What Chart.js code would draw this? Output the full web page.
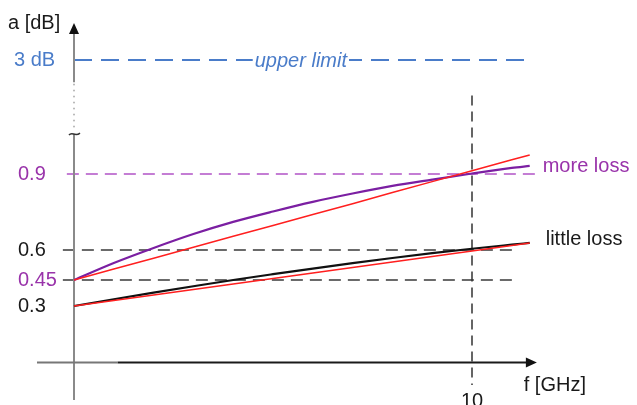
<!DOCTYPE html>
<html>
<head>
<meta charset="utf-8">
<script src="https://cdn.jsdelivr.net/npm/chart.js@4.4.1/dist/chart.umd.min.js"></script>
<style>
  html, body { margin: 0; padding: 0; background: #fff; }
  #wrap { width: 637px; height: 405px; }
</style>
</head>
<body>
<div id="wrap"><canvas id="lossChart" width="637" height="405"></canvas></div>
<script>
// Data
const freq = [0, 1, 2, 3, 4, 5, 6, 7, 8, 9, 10, 11, 11.45];            // f [GHz]
const moreLoss = [0.45, 0.535, 0.608, 0.663, 0.711, 0.752, 0.790, 0.823, 0.853, 0.878, 0.902, 0.924, 0.932];
const moreLossFit = [0.45, 0.505, 0.559, 0.611, 0.654, 0.697, 0.740, 0.783, 0.827, 0.870, 0.913, 0.956, 0.975];
const littleLoss = [0.30, 0.339, 0.377, 0.414, 0.450, 0.479, 0.507, 0.534, 0.560, 0.584, 0.605, 0.621, 0.628];
const littleLossFit = [0.30, 0.332, 0.364, 0.395, 0.427, 0.458, 0.485, 0.513, 0.540, 0.568, 0.595, 0.618, 0.628];

const yTickValues = [0.3, 0.45, 0.6, 0.9, 3];
const yTickLabels = ['0.3', '0.45', '0.6', '0.9', '3 dB'];
const xTickValues = [10];
const xTickLabels = ['10'];
const upperLimit = 3;
const refLevels = [0.45, 0.6, 0.9];
const markFreq = 10;

// styles
const PURPLE = '#7b1fa2';
const PURPLE_TXT = '#9933aa';
const PURPLE_LIGHT = '#c47dd4';
const BLUE = '#4a7cc9';
const RED = '#ff1f1f';
const DARK = '#1a1a1a';
const FONT = '"Liberation Sans", Arial, sans-serif';
const yTickColors = [DARK, PURPLE_TXT, DARK, PURPLE_TXT, BLUE];

// the drawing uses a broken, non-uniform dB axis: [value, fraction of axis height]
const yKnots = [[-0.2, 0], [0, 0.0987], [0.3, 0.2474], [0.45, 0.3158], [0.6, 0.3947],
                [0.9, 0.5947], [1.0, 0.6613], [3, 0.8947], [3.4, 1]];

class BrokenAxis extends Chart.LinearScale {
  getPixelForValue(value) {
    if (value === null || value === undefined || isNaN(value)) return NaN;
    let i = 1;
    while (i < yKnots.length - 1 && value > yKnots[i][0]) i++;
    const [v0, f0] = yKnots[i - 1];
    const [v1, f1] = yKnots[i];
    const frac = f0 + (value - v0) / (v1 - v0) * (f1 - f0);
    return this.bottom - frac * (this.bottom - this.top);
  }
  getValueForPixel(pixel) {
    const frac = (this.bottom - pixel) / (this.bottom - this.top);
    let i = 1;
    while (i < yKnots.length - 1 && frac > yKnots[i][1]) i++;
    const [v0, f0] = yKnots[i - 1];
    const [v1, f1] = yKnots[i];
    return v0 + (frac - f0) / (f1 - f0) * (v1 - v0);
  }
}
BrokenAxis.id = 'brokenLinear';
BrokenAxis.defaults = Chart.LinearScale.defaults;
Chart.register(BrokenAxis);

const pts = arr => arr.map((v, i) => ({ x: freq[i], y: v }));

function dashLine(ctx, x1, y1, x2, y2, color, width, dash) {
  ctx.save();
  ctx.strokeStyle = color;
  ctx.lineWidth = width;
  ctx.setLineDash(dash);
  ctx.beginPath();
  ctx.moveTo(x1, y1);
  ctx.lineTo(x2, y2);
  ctx.stroke();
  ctx.restore();
}

const decor = {
  id: 'decor',
  beforeDatasetsDraw(chart) {
    const ctx = chart.ctx;
    const xs = chart.scales.x, ys = chart.scales.y;
    const x0 = xs.getPixelForValue(0);
    const y0 = ys.getPixelForValue(0);

    // reference levels
    const yU = ys.getPixelForValue(upperLimit);
    dashLine(ctx, x0, yU, xs.getPixelForValue(11.45), yU, BLUE, 2, [18, 9]);
    refLevels.forEach(v => {
      const yp = ys.getPixelForValue(v);
      if (v === 0.9) dashLine(ctx, xs.getPixelForValue(-0.18), yp, xs.getPixelForValue(11.63), yp, PURPLE_LIGHT, 2, [12, 7]);
      else dashLine(ctx, xs.getPixelForValue(-0.28), yp, xs.getPixelForValue(11.16), yp, '#6a6a6a', 2, [12, 7]);
    });
    const xm = xs.getPixelForValue(markFreq);
    dashLine(ctx, xm, ys.getPixelForValue(2.2), xm, ys.getPixelForValue(-0.12), '#333', 1.5, [10, 6]);

    // y axis with break
    ctx.save();
    ctx.strokeStyle = '#8a8a8a';
    ctx.lineWidth = 2;
    ctx.beginPath();
    ctx.moveTo(x0, ys.getPixelForValue(-0.2));
    ctx.lineTo(x0, ys.getPixelForValue(1.33));
    ctx.moveTo(x0, ys.getPixelForValue(2.5));
    ctx.lineTo(x0, ys.getPixelForValue(3.28));
    ctx.stroke();
    ctx.fillStyle = '#aaa';
    for (let yp = ys.getPixelForValue(1.5); yp >= ys.getPixelForValue(2.48); yp -= 6) {
      ctx.fillRect(x0 - 0.8, yp - 0.8, 1.6, 1.6);
    }
    // break mark
    const yb = ys.getPixelForValue(1.33);
    ctx.strokeStyle = '#333';
    ctx.lineWidth = 1.5;
    ctx.beginPath();
    ctx.moveTo(x0 - 5, yb + 1);
    ctx.bezierCurveTo(x0 - 2, yb - 3, x0 + 1, yb + 3, x0 + 6, yb - 1);
    ctx.stroke();
    // arrow head
    const yTip = ys.getPixelForValue(3.37);
    ctx.fillStyle = '#111';
    ctx.beginPath();
    ctx.moveTo(x0, yTip);
    ctx.lineTo(x0 - 5, yTip + 11);
    ctx.lineTo(x0 + 5, yTip + 11);
    ctx.closePath();
    ctx.fill();

    // x axis
    const xStart = xs.getPixelForValue(-0.93);
    const xGray = xs.getPixelForValue(1.1);
    const xTip = xs.getPixelForValue(11.63);
    ctx.lineWidth = 2;
    ctx.strokeStyle = '#777';
    ctx.beginPath();
    ctx.moveTo(xStart, y0);
    ctx.lineTo(xGray, y0);
    ctx.stroke();
    ctx.strokeStyle = '#1a1a1a';
    ctx.beginPath();
    ctx.moveTo(xGray, y0);
    ctx.lineTo(xTip - 9, y0);
    ctx.stroke();
    ctx.beginPath();
    ctx.moveTo(xTip, y0);
    ctx.lineTo(xTip - 11, y0 - 5);
    ctx.lineTo(xTip - 11, y0 + 5);
    ctx.closePath();
    ctx.fill();
    ctx.restore();
  },
  afterDatasetsDraw(chart) {
    const ctx = chart.ctx;
    const xs = chart.scales.x, ys = chart.scales.y;
    ctx.save();
    ctx.font = '20px ' + FONT;
    ctx.textBaseline = 'middle';
    ctx.textAlign = 'left';

    ctx.fillStyle = DARK;
    ctx.fillText('a [dB]', 8, 23);

    yTickValues.forEach((v, i) => {
      ctx.fillStyle = yTickColors[i];
      ctx.fillText(yTickLabels[i], yTickLabels[i].includes('dB') ? 14 : 18, ys.getPixelForValue(v));
    });

    ctx.textAlign = 'center';
    ctx.textBaseline = 'top';
    ctx.fillStyle = DARK;
    xTickValues.forEach((v, i) => {
      ctx.fillText(xTickLabels[i], xs.getPixelForValue(v), ys.getPixelForValue(0) + 29);
    });

    ctx.textAlign = 'left';
    ctx.textBaseline = 'middle';
    ctx.fillText('f [GHz]', xs.getPixelForValue(11.3), ys.getPixelForValue(0) + 23);

    // series labels next to line ends
    const n = freq.length - 1;
    ctx.fillStyle = PURPLE_TXT;
    ctx.fillText('more loss', xs.getPixelForValue(freq[n]) + 13, ys.getPixelForValue(moreLoss[n]) + 1);
    ctx.fillStyle = DARK;
    ctx.fillText('little loss', xs.getPixelForValue(freq[n]) + 16, ys.getPixelForValue(littleLoss[n]) - 3);

    // upper limit caption sitting on the dashed line
    ctx.font = 'italic 20px ' + FONT;
    ctx.textAlign = 'center';
    const cx = xs.getPixelForValue(5.7), cy = ys.getPixelForValue(upperLimit);
    const w = ctx.measureText('upper limit').width;
    ctx.fillStyle = '#fff';
    ctx.fillRect(cx - w / 2 - 2, cy - 9, w + 4, 18);
    ctx.fillStyle = BLUE;
    ctx.fillText('upper limit', cx, cy + 1);
    ctx.restore();
  }
};

new Chart(document.getElementById('lossChart'), {
  type: 'line',
  data: {
    datasets: [
      { label: 'more loss fit', data: pts(moreLossFit), borderColor: RED, borderWidth: 1.5 },
      { label: 'little loss fit', data: pts(littleLossFit), borderColor: RED, borderWidth: 1.5 },
      { label: 'more loss', data: pts(moreLoss), borderColor: PURPLE, borderWidth: 2.2, cubicInterpolationMode: 'monotone' },
      { label: 'little loss', data: pts(littleLoss), borderColor: '#111', borderWidth: 2.2, cubicInterpolationMode: 'monotone' }
    ]
  },
  options: {
    responsive: false,
    animation: false,
    events: [],
    elements: { point: { radius: 0 }, line: { fill: false } },
    layout: { padding: { left: 34.2, right: 85.4, top: 20, bottom: 5 } },
    plugins: { legend: { display: false }, tooltip: { enabled: false }, title: { display: false } },
    scales: {
      x: { type: 'linear', min: -1, max: 12, display: false },
      y: { type: 'brokenLinear', min: -0.2, max: 3.4, display: false }
    }
  },
  plugins: [decor]
});
</script>
</body>
</html>
